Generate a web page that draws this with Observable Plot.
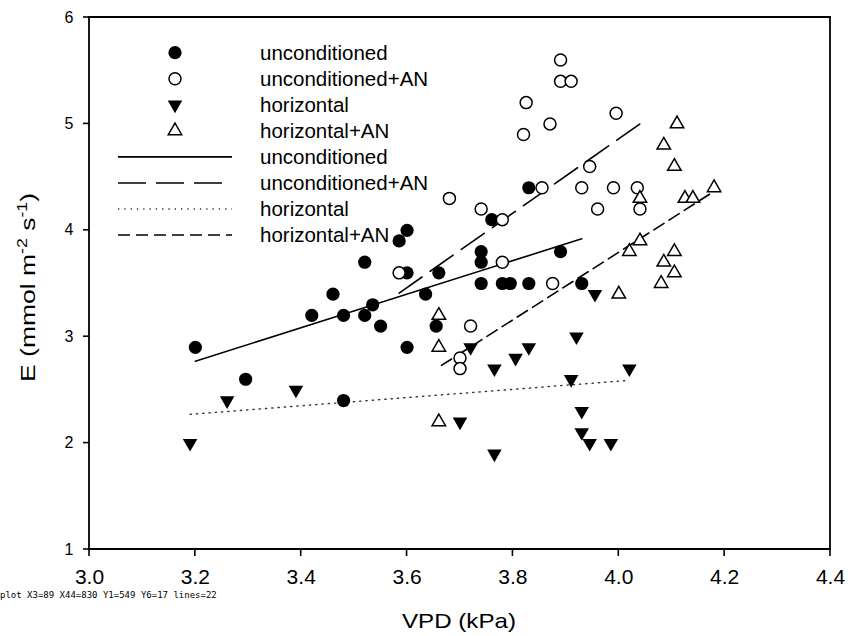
<!DOCTYPE html>
<html>
<head>
<meta charset="utf-8">
<script src="https://cdn.jsdelivr.net/npm/d3@7"></script>
<script src="https://cdn.jsdelivr.net/npm/@observablehq/plot@0.6"></script>
<style>
  body { margin: 0; background: #fff; }
  #chart { position: relative; width: 857px; height: 636px; }
</style>
</head>
<body>
<div id="chart"></div>
<pre id="dbg" style="position:absolute;left:0;top:590px;font:9px monospace;margin:0;white-space:pre-wrap;width:380px"></pre>
<script>
// ---- data ----
const uncondVPD = [3.20, 3.295, 3.42, 3.46, 3.48, 3.48, 3.52, 3.52, 3.535, 3.55, 3.585, 3.60, 3.60, 3.60, 3.635, 3.655, 3.66, 3.74, 3.74, 3.74, 3.76, 3.78, 3.795, 3.83, 3.83, 3.89, 3.93];
const uncondE   = [2.9, 2.6, 3.2, 3.4, 3.2, 2.4, 3.7, 3.2, 3.3, 3.1, 3.9, 4.0, 3.6, 2.9, 3.4, 3.1, 3.6, 3.8, 3.7, 3.5, 4.1, 3.5, 3.5, 3.5, 4.4, 3.8, 3.5];

const uncondAnVPD = [3.585, 3.68, 3.70, 3.70, 3.72, 3.74, 3.78, 3.78, 3.82, 3.825, 3.855, 3.87, 3.875, 3.89, 3.89, 3.91, 3.93, 3.945, 3.96, 3.99, 3.995, 4.035, 4.04];
const uncondAnE   = [3.6, 4.3, 2.8, 2.7, 3.1, 4.2, 4.1, 3.7, 4.9, 5.2, 4.4, 5.0, 3.5, 5.6, 5.4, 5.4, 4.4, 4.6, 4.2, 4.4, 5.1, 4.4, 4.2];

const horizVPD = [3.19, 3.26, 3.39, 3.70, 3.72, 3.765, 3.765, 3.805, 3.83, 3.91, 3.92, 3.93, 3.93, 3.945, 3.955, 3.985, 4.02];
const horizE   = [2.0, 2.4, 2.5, 2.2, 2.9, 2.7, 1.9, 2.8, 2.9, 2.6, 3.0, 2.3, 2.1, 2.0, 3.4, 2.0, 2.7];

const horizAnVPD = [3.66, 3.66, 3.66, 4.0, 4.02, 4.04, 4.04, 4.08, 4.085, 4.085, 4.105, 4.105, 4.105, 4.11, 4.125, 4.14, 4.18];
const horizAnE   = [3.2, 2.9, 2.2, 3.4, 3.8, 4.3, 3.9, 3.5, 4.8, 3.7, 3.6, 3.8, 4.6, 5.0, 4.3, 4.3, 4.4];

// regression line end points
const fitUncondVPD = [3.20, 3.93],   fitUncondE = [2.77, 3.92];
const fitUncondAnVPD = [3.585, 4.04], fitUncondAnE = [3.41, 5.0];
const fitHorizVPD = [3.19, 4.02],    fitHorizE = [2.27, 2.59];
const fitHorizAnVPD = [3.665, 4.175], fitHorizAnE = [2.73, 4.35];

const xTicks = [3.0, 3.2, 3.4, 3.6, 3.8, 4.0, 4.2, 4.4];
const yTicks = [1, 2, 3, 4, 5, 6];
const xDomain = [3.0, 4.4];
const yDomain = [1, 6];

const legendSymbolLabels = ["unconditioned", "unconditioned+AN", "horizontal", "horizontal+AN"];
const legendLineLabels   = ["unconditioned", "unconditioned+AN", "horizontal", "horizontal+AN"];

const xTitle = "VPD (kPa)";

// ---- build tables ----
const pts = (xs, ys) => xs.map((x, i) => ({x, y: ys[i]}));
const uncond = pts(uncondVPD, uncondE);
const uncondAn = pts(uncondAnVPD, uncondAnE);
const horiz = pts(horizVPD, horizE);
const horizAn = pts(horizAnVPD, horizAnE);

// ---- styles ----
const FONT = '"Liberation Sans", Arial, Helvetica, sans-serif';
const downTriangle = {
  draw(ctx, size) {
    const y = -Math.sqrt(size / (Math.sqrt(3) * 3));
    ctx.moveTo(0, -2 * y);
    ctx.lineTo(-Math.sqrt(3) * y, y);
    ctx.lineTo(Math.sqrt(3) * y, y);
    ctx.closePath();
  }
};
const dashLong = "28,10", dashShort = "12,6", dashDot = "1.3,5";
const symbolStyles = [
  {symbol: d3.symbolCircle, fill: "#000", stroke: "none", r: 6.6, sw: 0},
  {symbol: d3.symbolCircle, fill: "#fff", stroke: "#000", r: 6, sw: 1.5},
  {symbol: downTriangle, fill: "#000", stroke: "none", r: 5.4, sw: 0},
  {symbol: d3.symbolTriangle, fill: "#fff", stroke: "#000", r: 5, sw: 1.5}
];
const lineStyles = [
  {dash: null, sw: 1.6, stroke: "#000"},
  {dash: dashLong, sw: 1.6, stroke: "#000"},
  {dash: dashDot, sw: 1.4, stroke: "#333"},
  {dash: dashShort, sw: 1.6, stroke: "#000"}
];

const lineMark = (xs, ys, st) => st.dash
  ? Plot.line(pts(xs, ys), {x: "x", y: "y", stroke: st.stroke, strokeWidth: st.sw, strokeDasharray: st.dash})
  : Plot.line(pts(xs, ys), {x: "x", y: "y", stroke: st.stroke, strokeWidth: st.sw});
const dotMark = (data, st) => st.sw > 0
  ? Plot.dot(data, {x: "x", y: "y", symbol: st.symbol, r: st.r, fill: st.fill, stroke: st.stroke, strokeWidth: st.sw})
  : Plot.dot(data, {x: "x", y: "y", symbol: st.symbol, r: st.r, fill: st.fill, stroke: null});

const TICK_X = 7, TICK_Y = 6;

const chart = Plot.plot({
  width: 857,
  height: 636,
  marginLeft: 89,
  marginRight: 27,
  marginTop: 17,
  marginBottom: 87,
  style: {fontFamily: FONT, background: "#fff", color: "#000", overflow: "visible"},
  x: {domain: xDomain},
  y: {domain: yDomain},
  marks: [
    lineMark(fitUncondVPD, fitUncondE, lineStyles[0]),
    lineMark(fitUncondAnVPD, fitUncondAnE, lineStyles[1]),
    lineMark(fitHorizVPD, fitHorizE, lineStyles[2]),
    lineMark(fitHorizAnVPD, fitHorizAnE, lineStyles[3]),
    dotMark(uncond, symbolStyles[0]),
    dotMark(uncondAn, symbolStyles[1]),
    dotMark(horiz, symbolStyles[2]),
    dotMark(horizAn, symbolStyles[3]),
    Plot.axisX({ticks: xTicks, tickFormat: d3.format(".1f"), tickSize: 0, tickPadding: TICK_X + 13, fontSize: 21, label: null}),
    Plot.axisY({ticks: yTicks, tickFormat: d3.format("d"), tickSize: 0, tickPadding: TICK_Y + 10, fontSize: 16, label: null})
  ]
});
document.getElementById("chart").appendChild(chart);

const svg = d3.select(chart);

// ---- frame and tick marks, positioned through Plot's own scales ----
let X, Y, how = "plot";
try {
  const sx = chart.scale("x"), sy = chart.scale("y");
  X = v => sx.apply(v);
  Y = v => sy.apply(v);
  if (!isFinite(X(3.0)) || !isFinite(Y(1))) throw new Error("nan");
} catch (e) {
  how = "fallback " + e.message;
  X = d3.scaleLinear(xDomain, [89, 830]);
  Y = d3.scaleLinear(yDomain, [549, 17]);
}
const axesG = svg.append("g");
const frameLines = [
  [xDomain[0], yDomain[0], xDomain[1], yDomain[0]],
  [xDomain[0], yDomain[1], xDomain[1], yDomain[1]],
  [xDomain[0], yDomain[0], xDomain[0], yDomain[1]],
  [xDomain[1], yDomain[0], xDomain[1], yDomain[1]]
];
frameLines.forEach(([a, b, c, d]) => {
  axesG.append("line")
    .attr("x1", X(a)).attr("y1", Y(b)).attr("x2", X(c)).attr("y2", Y(d))
    .attr("stroke", "#000").attr("stroke-width", 1.8).attr("stroke-linecap", "square");
});
xTicks.forEach(v => {
  axesG.append("line")
    .attr("x1", X(v)).attr("x2", X(v))
    .attr("y1", Y(yDomain[0])).attr("y2", Y(yDomain[0]) + TICK_X)
    .attr("stroke", "#000").attr("stroke-width", 1.6);
});
yTicks.forEach(v => {
  axesG.append("line")
    .attr("x1", X(xDomain[0]) - TICK_Y).attr("x2", X(xDomain[0]))
    .attr("y1", Y(v)).attr("y2", Y(v))
    .attr("stroke", "#000").attr("stroke-width", 1.6);
});

// ---- x axis title ----
svg.append("text")
  .attr("x", 459).attr("y", 628)
  .attr("text-anchor", "middle")
  .attr("font-family", FONT).attr("font-size", 21).attr("fill", "#000")
  .attr("textLength", 114).attr("lengthAdjust", "spacingAndGlyphs")
  .text(xTitle);

// ---- y axis title with superscripts ----
const yt = svg.append("text")
  .attr("transform", "translate(35,287.5) rotate(-90)")
  .attr("text-anchor", "middle")
  .attr("font-family", FONT).attr("font-size", 21).attr("fill", "#000");
yt.append("tspan").text("E (mmol m");
yt.append("tspan").attr("dy", -8).attr("font-size", 14).text("-2");
yt.append("tspan").attr("dy", 8).text(" s");
yt.append("tspan").attr("dy", -8).attr("font-size", 14).text("-1");
yt.append("tspan").attr("dy", 8).text(")");
const w = yt.node().getBBox().width;
if (w > 0) yt.attr("transform", `translate(35,287.5) rotate(-90) scale(${189 / w},1)`);

// ---- legend ----
const lg = svg.append("g")
  .attr("font-family", FONT).attr("font-size", 20.5).attr("fill", "#000")
  .attr("text-anchor", "start");
const rowY = i => 52.7 + i * 26.05;
legendSymbolLabels.forEach((lab, i) => {
  const st = symbolStyles[i];
  lg.append("path")
    .attr("transform", `translate(175,${rowY(i)})`)
    .attr("d", d3.symbol(st.symbol, Math.PI * st.r * st.r)())
    .attr("fill", st.fill)
    .attr("stroke", st.stroke)
    .attr("stroke-width", st.sw);
  lg.append("text").attr("x", 260).attr("y", rowY(i)).attr("dy", "0.35em")
    .attr("text-anchor", "start").text(lab);
});
legendLineLabels.forEach((lab, j) => {
  const i = j + 4;
  const st = lineStyles[j];
  const ln = lg.append("line")
    .attr("x1", 118).attr("x2", 232)
    .attr("y1", rowY(i)).attr("y2", rowY(i))
    .attr("stroke", st.stroke).attr("stroke-width", st.sw);
  if (st.dash) ln.attr("stroke-dasharray", st.dash);
  lg.append("text").attr("x", 260).attr("y", rowY(i)).attr("dy", "0.35em")
    .attr("text-anchor", "start").text(lab);
});

document.getElementById("dbg").textContent = how + " X3=" + X(3.0) + " X44=" + X(4.4) + " Y1=" + Y(1) + " Y6=" + Y(6) + " lines=" + chart.querySelectorAll("line").length;
</script>
</body>
</html>
